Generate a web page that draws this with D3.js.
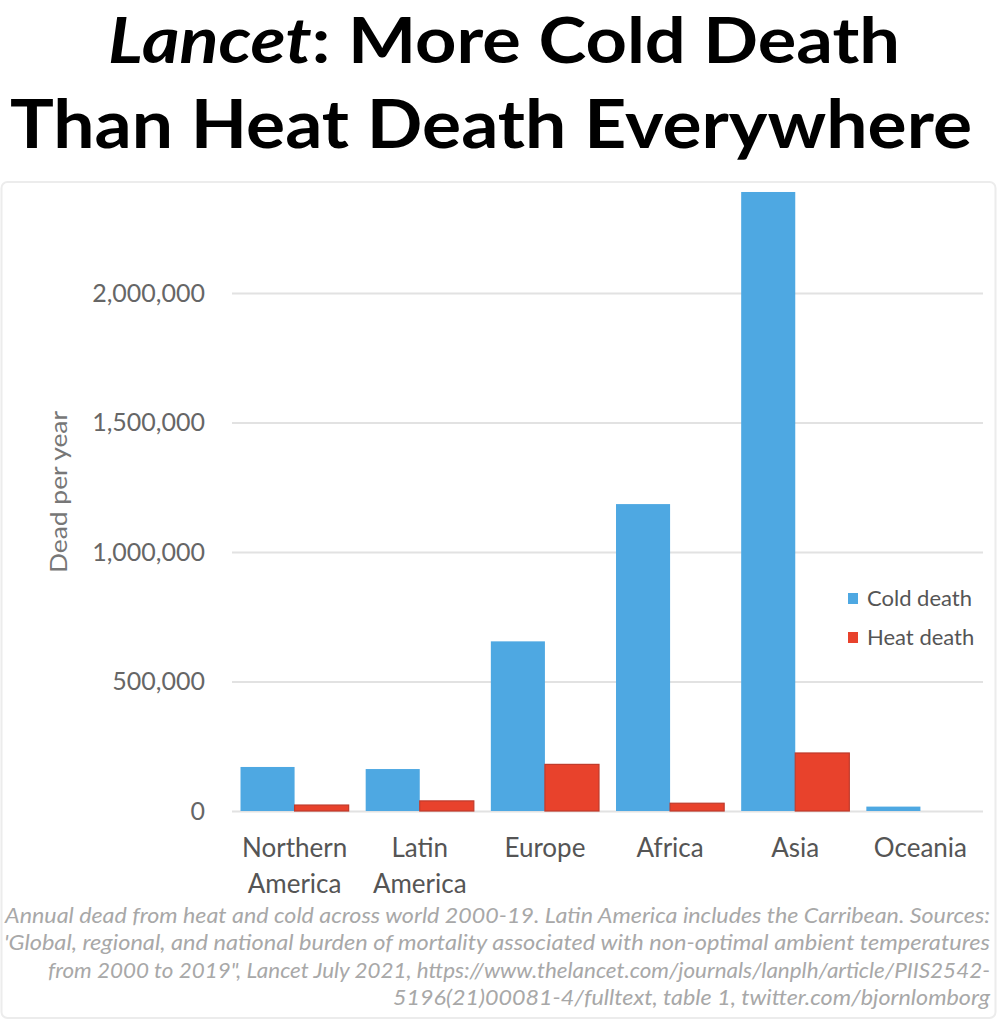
<!DOCTYPE html>
<html>
<head>
<meta charset="utf-8">
<script src="https://cdn.jsdelivr.net/npm/d3@7"></script>
<style>
  body { margin: 0; background: #fff; }
  svg { display: block; }
  text { font-family: Lato, "Open Sans", sans-serif; }
</style>
</head>
<body>
<svg id="chart" width="997" height="1024"></svg>
<script>
// regions along the x axis (label lines split for wrapping)
var regions = ["Northern America", "Latin America", "Europe", "Africa", "Asia", "Oceania"];
var regionLines = [["Northern", "America"], ["Latin", "America"], ["Europe"], ["Africa"], ["Asia"], ["Oceania"]];

// annual deaths
var coldDeath = [170000, 162000, 655000, 1185000, 2390000, 17000];
var heatDeath = [23000, 39000, 180000, 30000, 224000, 0];

var seriesNames = ["Cold death", "Heat death"];
var seriesColors = ["#4ea8e2", "#e8422c"];

var yTicks = [0, 500000, 1000000, 1500000, 2000000];

var footLines = [
  "Annual dead from heat and cold across world 2000-19. Latin America includes the Carribean. Sources:",
  "'Global, regional, and national burden of mortality associated with non-optimal ambient temperatures",
  "from 2000 to 2019\", Lancet July 2021, https://www.thelancet.com/journals/lanplh/article/PIIS2542-",
  "5196(21)00081-4/fulltext, table 1, twitter.com/bjornlomborg"
];

var svg = d3.select("#chart");

// faint frame of the original screenshot
svg.append("rect")
  .attr("x", 1.5).attr("y", 182).attr("width", 994).attr("height", 836)
  .attr("rx", 6)
  .attr("fill", "none")
  .attr("stroke", "#ececec")
  .attr("stroke-width", 2);

// title, two lines
var t1 = svg.append("text")
  .attr("x", 108).attr("y", 63)
  .attr("font-size", 64).attr("font-weight", 700).attr("fill", "#000")
  .attr("textLength", 792).attr("lengthAdjust", "spacingAndGlyphs");
t1.append("tspan").attr("font-style", "italic").text("Lancet");
t1.append("tspan").text(": More Cold Death");

svg.append("text")
  .attr("x", 10).attr("y", 148)
  .attr("font-size", 66).attr("font-weight", 700).attr("fill", "#000")
  .attr("textLength", 962).attr("lengthAdjust", "spacingAndGlyphs")
  .text("Than Heat Death Everywhere");

var margin = { left: 232, right: 14, top: 180, bottom: 213 };
var width = 997 - margin.left - margin.right;
var y0 = 811;

var y = d3.scaleLinear()
  .domain([0, 500000])
  .range([y0, y0 - 129.5]);

var x = d3.scaleBand()
  .domain(regions)
  .range([margin.left, 997 - margin.right])
  .paddingInner(0.136)
  .paddingOuter(0.068);

var xSub = d3.scaleBand()
  .domain(seriesNames)
  .range([0, x.bandwidth()]);

// gridlines
var grid = svg.append("g")
  .attr("transform", "translate(" + margin.left + ",0)")
  .call(d3.axisLeft(y).tickValues(yTicks).tickSize(-width).tickFormat(""));
grid.select(".domain").remove();
grid.selectAll(".tick line")
  .attr("stroke", "#e2e2e2")
  .attr("stroke-width", 2);

// y tick labels
var yAxis = svg.append("g")
  .attr("transform", "translate(205,0)")
  .call(d3.axisLeft(y).tickValues(yTicks).tickSize(0).tickPadding(0).tickFormat(d3.format(",")));
yAxis.select(".domain").remove();
yAxis.selectAll("text")
  .attr("font-family", "Lato, 'Open Sans', sans-serif")
  .attr("font-size", 25)
  .attr("fill", "#666");

svg.append("text")
  .attr("transform", "translate(67,492) rotate(-90)")
  .attr("text-anchor", "middle")
  .attr("font-size", 24)
  .attr("fill", "#777")
  .attr("textLength", 162)
  .attr("lengthAdjust", "spacingAndGlyphs")
  .text("Dead per year");

// bars
var rows = regions.map(function(r, i) {
  return { region: r, values: [coldDeath[i], heatDeath[i]] };
});

var groups = svg.append("g").selectAll("g")
  .data(rows)
  .join("g")
  .attr("transform", function(d) { return "translate(" + x(d.region) + ",0)"; });

groups.selectAll("rect")
  .data(function(d) {
    return d.values.map(function(v, j) { return { name: seriesNames[j], value: v, j: j }; })
      .filter(function(d) { return d.value > 0; });
  })
  .join("rect")
  .attr("x", function(d) { return xSub(d.name); })
  .attr("y", function(d) { return y(d.value); })
  .attr("width", xSub.bandwidth())
  .attr("height", function(d) { return y0 - y(d.value); })
  .attr("fill", function(d) { return seriesColors[d.j]; })
  .attr("stroke", function(d) { return d.j == 1 ? "#bf3a2b" : "none"; })
  .attr("stroke-width", 1.2);

// category labels
var xLabels = svg.append("g").selectAll("text")
  .data(regions)
  .join("text")
  .attr("x", function(d) { return x(d) + x.bandwidth() / 2; })
  .attr("y", 857)
  .attr("text-anchor", "middle")
  .attr("font-size", 26)
  .attr("fill", "#555");

xLabels.each(function(d, i) {
  var el = d3.select(this);
  regionLines[i].forEach(function(line, k) {
    el.append("tspan")
      .attr("x", x(d) + x.bandwidth() / 2)
      .attr("dy", k == 0 ? 0 : 36)
      .text(line);
  });
});

// legend
var legend = svg.append("g").attr("transform", "translate(848,598)");
seriesNames.forEach(function(name, i) {
  legend.append("rect")
    .attr("x", 0).attr("y", i * 39 - 5)
    .attr("width", 10).attr("height", 11)
    .attr("fill", seriesColors[i]);
  legend.append("text")
    .attr("x", 19).attr("y", i * 39)
    .attr("dy", "0.35em")
    .attr("font-size", 22)
    .attr("fill", "#555")
    .text(name);
});

// footnote
var footLens = [985, 986, 942, 597];
footLines.forEach(function(line, i) {
  svg.append("text")
    .attr("x", 990)
    .attr("y", 923 + i * 27.3)
    .attr("text-anchor", "end")
    .attr("font-size", 21)
    .attr("font-style", "italic")
    .attr("fill", "#a8a8a8")
    .attr("textLength", footLens[i])
    .attr("lengthAdjust", "spacingAndGlyphs")
    .text(line);
});
</script>
</body>
</html>
